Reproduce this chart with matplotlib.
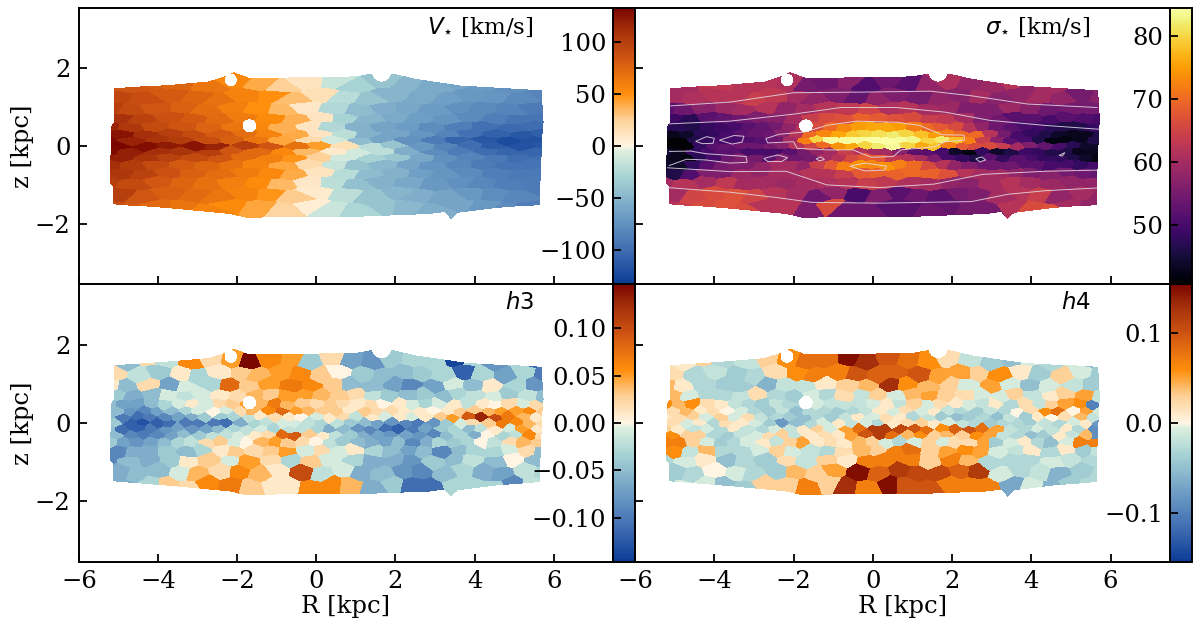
"""Four-panel Voronoi maps of stellar kinematics (V, sigma, h3, h4) in the R-z plane."""
import numpy as np
import matplotlib
matplotlib.use("Agg")
import matplotlib.pyplot as plt
from matplotlib.colors import LinearSegmentedColormap

plt.rcParams['font.family'] = ['DejaVu Serif']
plt.rcParams['mathtext.fontset'] = 'dejavusans'

# bin rows, top to bottom; each row's bins run evenly from R_MIN to R_MAX
z_rows = [1.6, 1.25, 0.95, 0.7, 0.48, 0.3, 0.15, 0.0, -0.15, -0.3, -0.48, -0.7, -0.95, -1.25, -1.6]
R_MIN, R_MAX = -5.15, 5.65

v_rows = [
    [90, 85, 80, 75, 65, 55, 40, 25, 12, -15, -30, -40, -50, -58, -62, -68, -75, -78],
    [95, 90, 82, 75, 68, 58, 50, 33, 15, -22, -40, -50, -58, -65, -70, -72, -80, -85],
    [100, 92, 85, 78, 70, 60, 50, 35, 10, -25, -45, -55, -60, -68, -75, -80, -85, -90],
    [110, 98, 88, 82, 72, 62, 52, 38, 12, -30, -50, -58, -65, -72, -80, -88, -95, -95],
    [118, 105, 92, 86, 76, 65, 55, 38, 12, -25, -52, -62, -68, -78, -88, -98, -102, -100],
    [125, 112, 100, 92, 82, 70, 58, 40, 12, -20, -52, -62, -72, -85, -98, -108, -115, -110],
    [130, 118, 108, 102, 90, 78, 65, 42, 18, -10, -45, -62, -75, -90, -105, -115, -122, -118],
    [133, 128, 122, 125, 118, 100, 85, 68, 45, 15, -20, -40, -70, -85, -100, -112, -118, -115],
    [130, 120, 112, 108, 100, 85, 72, 55, 35, 8, -10, -20, -55, -78, -90, -100, -105, -105],
    [120, 108, 98, 92, 85, 72, 60, 48, 25, -10, -30, -38, -60, -75, -85, -92, -100, -100],
    [112, 102, 92, 82, 75, 68, 58, 42, 18, -15, -40, -48, -62, -72, -82, -90, -96, -96],
    [105, 98, 88, 78, 70, 62, 55, 40, 12, -22, -45, -52, -65, -72, -80, -88, -92, -92],
    [100, 92, 84, 75, 68, 60, 52, 35, 10, -20, -42, -52, -60, -70, -76, -82, -88, -90],
    [100, 85, 78, 72, 65, 58, 48, 28, 8, -20, -40, -50, -55, -62, -70, -78, -82, -90],
    [90, 82, 72, 66, 58, 52, 42, 22, 6, -14, -28, -40, -48, -55, -62, -70, -78, -88],
]

sigma_rows = [
    [60, 60, 63, 63, 62, 62, 61, 55, 54, 57, 51, 54, 52, 58, 61, 58, 59, 62, 58, 60, 58, 58],
    [60, 61, 62, 62, 64, 63, 60, 58, 56, 53, 58, 56, 55, 58, 57, 60, 57, 58, 60, 58, 55, 57],
    [52, 54, 57, 59, 60, 62, 58, 60, 62, 63, 65, 61, 62, 60, 59, 56, 56, 59, 57, 54, 55, 55],
    [49, 47, 52, 53, 54, 56, 57, 60, 64, 66, 67, 69, 68, 67, 66, 64, 63, 60, 56, 54, 52, 52, 50, 52, 51, 50],
    [47, 47, 46, 48, 49, 50, 52, 53, 55, 58, 62, 66, 70, 73, 75, 76, 76, 75, 72, 70, 68, 66, 62, 58, 54, 52, 50, 49, 47, 46, 46, 48],
    [43, 44, 47, 48, 50, 52, 53, 54, 57, 62, 70, 73, 76, 79, 80, 81, 82, 80, 78, 75, 72, 70, 70, 62, 55, 50, 48, 46, 44, 43, 43, 46],
    [41, 41, 46, 48, 50, 50, 51, 52, 54, 60, 72, 80, 84, 84, 84, 85, 85, 84, 83, 80, 82, 78, 72, 64, 57, 52, 50, 46, 42, 42, 43, 46],
    [41, 41, 48, 52, 53, 54, 54, 55, 57, 62, 65, 70, 74, 76, 80, 82, 84, 80, 76, 78, 72, 68, 66, 66, 64, 60, 56, 53, 50, 47, 44, 44],
    [45, 43, 48, 50, 52, 52, 50, 50, 50, 52, 55, 58, 60, 64, 62, 60, 60, 57, 52, 52, 50, 44, 42, 48, 44, 46, 49, 48, 46, 46, 43, 43],
    [43, 42, 47, 50, 54, 56, 55, 52, 56, 54, 55, 60, 62, 66, 68, 68, 63, 62, 60, 56, 50, 48, 46, 52, 48, 52, 50, 48, 48, 46, 44, 42],
    [44, 44, 48, 52, 55, 56, 56, 58, 60, 60, 58, 64, 68, 72, 74, 73, 74, 72, 70, 66, 62, 58, 56, 54, 54, 54, 52, 52, 50, 50, 48, 50],
    [46, 51, 56, 56, 59, 58, 60, 60, 62, 62, 64, 68, 69, 69, 70, 69, 67, 62, 60, 60, 58, 56, 57, 55, 54, 53],
    [60, 62, 60, 63, 60, 60, 59, 60, 61, 62, 64, 63, 61, 60, 58, 57, 60, 62, 60, 59, 58, 58],
    [60, 65, 66, 67, 65, 62, 60, 54, 58, 50, 56, 52, 54, 52, 55, 56, 60, 62, 64, 58, 60, 58],
    [62, 64, 66, 67, 66, 62, 62, 56, 66, 54, 54, 52, 52, 54, 53, 55, 55, 62, 66, 67, 60, 58],
]

# h3 and h4 read in units of 0.01
h3_rows = [
    [2, -5, 2, -2, 6, 2, 5, 15, 6, 5, -4, 2, -7, -8, -4, -3, -3, -14, -3, -8, -2, -11],
    [2, -2, -4, 1, -3, 1, 3, 4, 5, 6, 3, 0, -4, -5, -5, -4, -3, -12, -3, -7, -3, -10],
    [1, -5, 2, -7, -1, -3, 8, 3, 5, 7, 6, 3, -5, -5, -7, -9, -7, -1, -5, 1, -3, -8],
    [-4, -6, -5, -1, -2, -1, 1, 2, 4, 3, 5, 5, 4, 3, 2, -2, -4, -5, -4, -5, -3, -2, -1, -4, -2, -5],
    [-5, -7, -7, -5, -3, -1, 1, -1, 2, 3, 5, 4, 7, 4, 3, 2, 3, 2, 1, 2, 0, 1, -1, -3, -1, 1, -2, 1, 0, 2, -1, 2],
    [-5, -8, -9, -7, -5, -3, -1, 0, -1, 2, 4, 6, 8, 5, 4, 3, 3, 1, 3, 2, 2, 1, 1, 0, 1, 3, 3, 4, 5, 5, 6, 3],
    [-5, -10, -11, -10, -9, -7, -6, -4, -4, -3, -2, 1, 2, 1, 0, -1, 1, 2, -2, 1, -1, 1, -1, 1, 3, 5, 9, 13, 10, 7, 4, 1],
    [-4, -12, -13, -12, -11, -10, -10, -10, -11, -6, -3, -2, -1, -1, -2, -3, -2, -4, -5, -7, -8, -9, -10, -8, -4, -1, 2, 3, 7, 6, 4, 2],
    [-5, -11, -12, -10, -8, -7, -8, -7, -5, -3, -2, -1, -3, -2, -2, -3, -6, -5, -8, -9, -11, -12, -10, -7, -4, -3, -5, -2, 1, -1, 5, 1],
    [-5, -9, -10, -9, -7, -5, -4, -2, -2, -1, 1, 2, 8, 9, 3, 1, -2, -4, -6, -7, -8, -7, -8, -9, -5, -3, -6, 0, -3, -2, 6, 2],
    [-4, -7, -8, -7, -5, -3, -2, 2, 3, -1, 0, 4, 5, 3, 2, 0, -2, -4, -5, -6, -7, -5, -9, -6, -3, -4, -3, 0, -2, 2, 4, 3],
    [-9, -6, -6, -4, -5, -3, 1, 3, 2, 3, 5, -1, 2, -1, 1, -3, -5, -7, -5, -9, -5, -3, -3, -1, 2, -5],
    [-9, -5, -6, -4, 1, 3, -1, 5, 2, -3, 3, -1, -3, -6, -6, -8, -4, -5, -2, -5, 0, -5],
    [-6, -5, -5, -1, 4, 2, 6, 4, 1, 10, -2, -1, -6, -5, -8, -9, -5, -3, -6, -7, -2, -3],
    [-6, -6, -3, 3, 2, 6, 7, 3, 1, 1, 6, 6, 4, -6, -4, -11, -11, -3, -3, -3, -9, -2],
]

h4_rows = [
    [2, 1, 3, -3, -2, 3, 6, 8, 8, 15, 13, 10, 8, 6, 2, -2, -4, -5, -1, -3, -1, -5],
    [2, -3, -2, -4, -3, 2, 6, 7, 7, 10, 9, 9, 10, 5, 5, 3, 6, 1, -4, 3, -1, -4],
    [4, 1, -3, -4, -4, -6, -2, -2, 1, 3, 4, 13, 6, 4, 3, -1, 5, -1, -5, -1, -2, -4],
    [4, -1, -3, -3, -2, 2, -3, -4, -1, -3, 2, -2, 3, -1, 4, 5, 3, 2, -1, -1, 3, -2, 1, 3, 5, -2],
    [6, 4, 6, 2, 1, -2, -3, -4, -2, -3, -3, -1, -2, -2, -2, -1, 1, -2, 3, -1, 2, 1, -1, -2, 1, -3, 2, -2, 3, 5, 6, -10],
    [2, 4, 1, 2, 0, -1, -3, -4, -2, -5, -3, -3, -4, -3, -2, 1, -1, 2, -1, 1, -2, -3, -4, -2, -3, 0, 2, 6, 8, 0, 5, -1],
    [1, 2, 3, -1, 3, -1, 2, -2, -3, -4, -5, -3, -4, -2, 1, -1, 2, 1, -3, -2, -4, -5, -4, -3, -5, -2, -4, 1, 0, 2, 4, -2],
    [2, -1, 1, -3, 2, 1, -1, -4, -8, -5, -3, -1, 1, -2, -1, -3, 1, 2, 3, 1, -1, -2, -3, -4, -3, -3, -4, -2, -3, -1, 1, -8],
    [3, 1, -2, -1, -3, 1, -2, -3, -1, -2, 1, 3, -1, 5, 8, 12, 12, 11, 10, 8, 6, 9, 10, 8, 5, -2, -3, -1, -2, 1, -3, -9],
    [6, 3, 3, -3, -4, -2, -1, 2, 3, -2, 1, 2, 1, 5, 10, 12, 8, 4, 6, 3, 4, 3, 6, 5, -2, -3, -5, -4, 1, -2, 4, -9],
    [7, 7, 3, -1, -4, -3, -1, 1, -2, 3, 5, 1, 2, 1, 4, 3, -1, -3, -1, 3, -1, 2, 2, 5, -4, -1, 1, -3, -5, -1, 7, 7],
    [6, -2, 4, -3, -3, -1, 3, -1, -2, -3, 2, 4, 3, 7, 8, 3, 5, 6, 5, -1, -2, 1, -3, 1, -4, -2],
    [-3, -1, 1, -5, -3, -4, 2, -2, 3, 1, 7, 7, 7, 3, 7, 4, -3, -3, -3, -1, -2, -3],
    [-4, -3, 0, -1, -3, -4, 4, 3, 5, 15, 9, 12, 11, 11, 9, 12, -1, -3, -2, -6, -4, -3],
    [-4, -1, -1, -5, -4, 3, 3, 7, 3, 13, 7, 15, 10, 10, 7, 7, 7, -7, -1, -6, -4, -3],
]

# map outline
upper_R = [-5.12, -3.67, -2.74, -2.32, -2.09, -1.71, -0.87, 1.0, 1.33, 1.98, 2.5, 3.8, 5.7]
upper_z = [1.48, 1.58, 1.66, 1.79, 1.9, 1.76, 1.76, 1.79, 1.85, 1.85, 1.73, 1.54, 1.43]
lower_R = [-5.2, -3.67, -2.18, -1.75, -0.87, 1.0, 2.87, 3.24, 3.4, 3.57, 4.55, 5.7]
lower_z = [-1.49, -1.61, -1.75, -1.85, -1.82, -1.82, -1.75, -1.7, -1.88, -1.72, -1.6, -1.51]
side_z = [-1.6, -1.05, -0.95, 0.5, 0.6, 1.6]
left_R = [-5.13, -5.13, -5.22, -5.18, -5.12, -5.12]
right_R = [5.66, 5.66, 5.66, 5.72, 5.74, 5.68]
holes = [(-2.16, 1.7, 0.16), (-1.69, 0.52, 0.17), (1.65, 1.9, 0.24)]

# sigma contours: open lines and closed loops
sigma_lines = [
    ([-5.13, -3.6, -2.0, 0.0, 1.46, 2.5, 3.9, 5.66], [1.03, 1.13, 1.37, 1.39, 1.41, 1.29, 1.08, 0.99]),
    ([-5.13, -3.6, -2.0, -0.8, 0.6, 1.83, 2.95, 4.35, 5.72], [0.57, 0.64, 0.82, 0.99, 0.99, 0.87, 0.66, 0.53, 0.43]),
    ([-5.18, -3.59, -2.19, -1.16, 0.15, 1.55, 2.77, 4.36, 5.66], [-0.56, -0.66, -0.65, -1.0, -1.07, -0.98, -0.73, -0.65, -0.62]),
    ([-5.18, -3.59, -2.47, -1.53, 0.15, 2.49, 3.42, 4.36, 5.66], [-1.07, -1.19, -1.32, -1.45, -1.47, -1.43, -1.24, -1.15, -1.08]),
    ([-5.13, -4.6, -4.2, -3.2, -3.17, -3.6, -4.2, -4.7, -5.13], [-0.14, -0.13, -0.2, -0.27, -0.42, -0.44, -0.36, -0.34, -0.5]),
]
sigma_loops = [
    ([-2.7, -2.37, -1.72, -1.16, -0.41, 0.62, 1.18, 1.74, 2.3, 2.32, 1.83, 1.55, 0.71, 0.52, -0.04, -0.5, -1.16, -1.91, -2.0, -2.65],
     [0.19, 0.3, 0.36, 0.53, 0.64, 0.61, 0.53, 0.29, 0.28, 0.15, 0.11, -0.02, -0.1, -0.27, -0.29, -0.1, -0.1, -0.06, 0.11, 0.08]),
    ([-4.47, -4.2, -4.0, -4.03, -4.3], [0.12, 0.24, 0.2, 0.07, 0.06]),
    ([-3.87, -3.5, -3.25, -3.3, -3.55], [0.15, 0.27, 0.25, 0.1, 0.05]),
    ([-2.75, -2.4, -2.15, -2.3, -2.65], [-0.32, -0.23, -0.3, -0.4, -0.4]),
    ([-1.43, -1.3, -1.22, -1.35], [-0.33, -0.28, -0.35, -0.38]),
    ([-0.58, -0.2, 0.35, 0.3, -0.2], [-0.52, -0.44, -0.52, -0.62, -0.64]),
    ([2.6, 2.75, 2.85, 2.7], [-0.33, -0.28, -0.36, -0.41]),
    ([4.7, 4.85, 4.78], [-0.24, -0.17, -0.26]),
]

xticks = [-6, -4, -2, 0, 2, 4, 6]
yticks = [-2, 0, 2]

cmap_div = LinearSegmentedColormap.from_list("vel", [
    (0.0, "#0b3c96"), (0.12, "#3f6cb0"), (0.27, "#76a5c8"), (0.39, "#a9d4d4"), (0.48, "#dcefe0"),
    (0.5, "#fff6e4"), (0.6, "#fdcf94"), (0.69, "#ff8f0c"), (0.82, "#cf5512"), (0.92, "#a5300a"), (1.0, "#7a0600"),
])

R_grid = np.arange(-5.3, 5.85, 0.0125)
z_grid = np.arange(-1.95, 1.97, 0.0125)
# nudges (in units of the bin spacing) that break up the regular lattice of bins
wobble_R = [0.16, -0.1, 0.06, -0.2, 0.14, -0.03, 0.2, -0.15, 0.02, 0.1, -0.18]
wobble_z = [0.1, -0.16, 0.2, 0.03, -0.12, 0.16, -0.05, -0.2, 0.13]


def nearest_bin_map(rows, scale=1.0, z_weight=2.0):
    """Paint every grid pixel with the value of its nearest bin."""
    bin_R, bin_z, bin_val = [], [], []
    for i, (z, vals) in enumerate(zip(z_rows, rows)):
        r = np.linspace(R_MIN, R_MAX, len(vals))
        step = r[1] - r[0]
        gap = 0.35 if abs(z) > 1 else 0.2 if abs(z) > 0.5 else 0.13
        for k in range(len(vals)):
            n = k + 3 * i
            bin_R.append(r[k] + (step / 4 if i % 2 else -step / 4) + step * wobble_R[n % len(wobble_R)])
            bin_z.append(z + gap * wobble_z[n % len(wobble_z)])
        bin_val.extend(np.array(vals, dtype=float) * scale)
    bin_R, bin_z, bin_val = np.array(bin_R), np.array(bin_z), np.array(bin_val)

    out = np.zeros((len(z_grid), len(R_grid)))
    for j, z in enumerate(z_grid):
        d = (R_grid[:, None] - bin_R) ** 2 + (z_weight * (z - bin_z)) ** 2
        out[j] = bin_val[d.argmin(axis=1)]

    RR, ZZ = np.meshgrid(R_grid, z_grid)
    mask = (ZZ > np.interp(RR, upper_R, upper_z)) | (ZZ < np.interp(RR, lower_R, lower_z))
    mask |= (RR < np.interp(ZZ, side_z, left_R)) | (RR > np.interp(ZZ, side_z, right_R))
    for hr, hz, hs in holes:
        mask |= (RR - hr) ** 2 + (ZZ - hz) ** 2 < hs ** 2
    return np.ma.masked_where(mask, out)


W, H = 1200.0, 620.0
fig = plt.figure(figsize=(12, 6.2), dpi=100)


def make_panel(x0, x1, y0, y1, cx0, cx1, rows, scale, z_weight, cmap, vmin, vmax, cticks, cfmt, title, bottom):
    ax = fig.add_axes([x0 / W, 1 - y1 / H, (x1 - x0) / W, (y1 - y0) / H])
    pm = ax.pcolormesh(R_grid, z_grid, nearest_bin_map(rows, scale, z_weight), cmap=cmap, vmin=vmin, vmax=vmax,
                       shading='nearest', rasterized=True)
    ax.set_xlim(-6, 7.5)
    ax.set_ylim(-3.55, 3.55)
    ax.set_xticks(xticks)
    ax.set_yticks(yticks)
    ax.tick_params(direction='in', length=6, width=1.3, labelsize=17.5, pad=6, labelbottom=bottom, labelleft=(x0 < 100))
    for s in ax.spines.values():
        s.set_linewidth(1.4)
    if x0 < 100:
        ax.set_ylabel('z [kpc]', fontsize=17.5, labelpad=1)
    if bottom:
        ax.set_xlabel('R [kpc]', fontsize=17.5, labelpad=1)
    ax.text(0.852, 0.93, title, transform=ax.transAxes, ha='right', va='center', fontsize=16.5)

    cax = fig.add_axes([cx0 / W, 1 - y1 / H, (cx1 - cx0) / W, (y1 - y0) / H])
    cb = fig.colorbar(pm, cax=cax)
    cb.set_ticks(cticks)
    cb.set_ticklabels([cfmt.format(t).replace('-', '\u2212') for t in cticks])
    cax.yaxis.set_ticks_position('left')
    cax.tick_params(direction='in', length=6, width=1.3, labelsize=17.5, pad=5)
    cb.outline.set_linewidth(1.4)
    return ax


ax_v = make_panel(79, 613, 8, 284, 613, 635, v_rows, 1.0, 3.0, cmap_div, -133, 133,
                  [-100, -50, 0, 50, 100], '{:d}', r'$V_{\star}$ [km/s]', False)
ax_s = make_panel(635, 1170, 8, 284, 1170, 1192, sigma_rows, 1.0, 2.2, 'inferno', 40.6, 84.5,
                  [50, 60, 70, 80], '{:d}', r'$\sigma_{\star}$ [km/s]', False)
ax_h3 = make_panel(79, 613, 284, 562, 613, 635, h3_rows, 0.01, 1.5, cmap_div, -0.147, 0.147,
                   [-0.10, -0.05, 0.0, 0.05, 0.10], '{:.2f}', r'$h3$', True)
ax_h4 = make_panel(635, 1170, 284, 562, 1170, 1192, h4_rows, 0.01, 1.5, cmap_div, -0.155, 0.155,
                   [-0.1, 0.0, 0.1], '{:.1f}', r'$h4$', True)

for lr, lz in sigma_lines:
    ax_s.plot(lr, lz, color='#e6dde6', lw=0.7, alpha=0.85)
for lr, lz in sigma_loops:
    ax_s.fill(lr, lz, facecolor='none', edgecolor='#e6dde6', lw=0.7, alpha=0.85)

fig.savefig('out.png', dpi=100)
